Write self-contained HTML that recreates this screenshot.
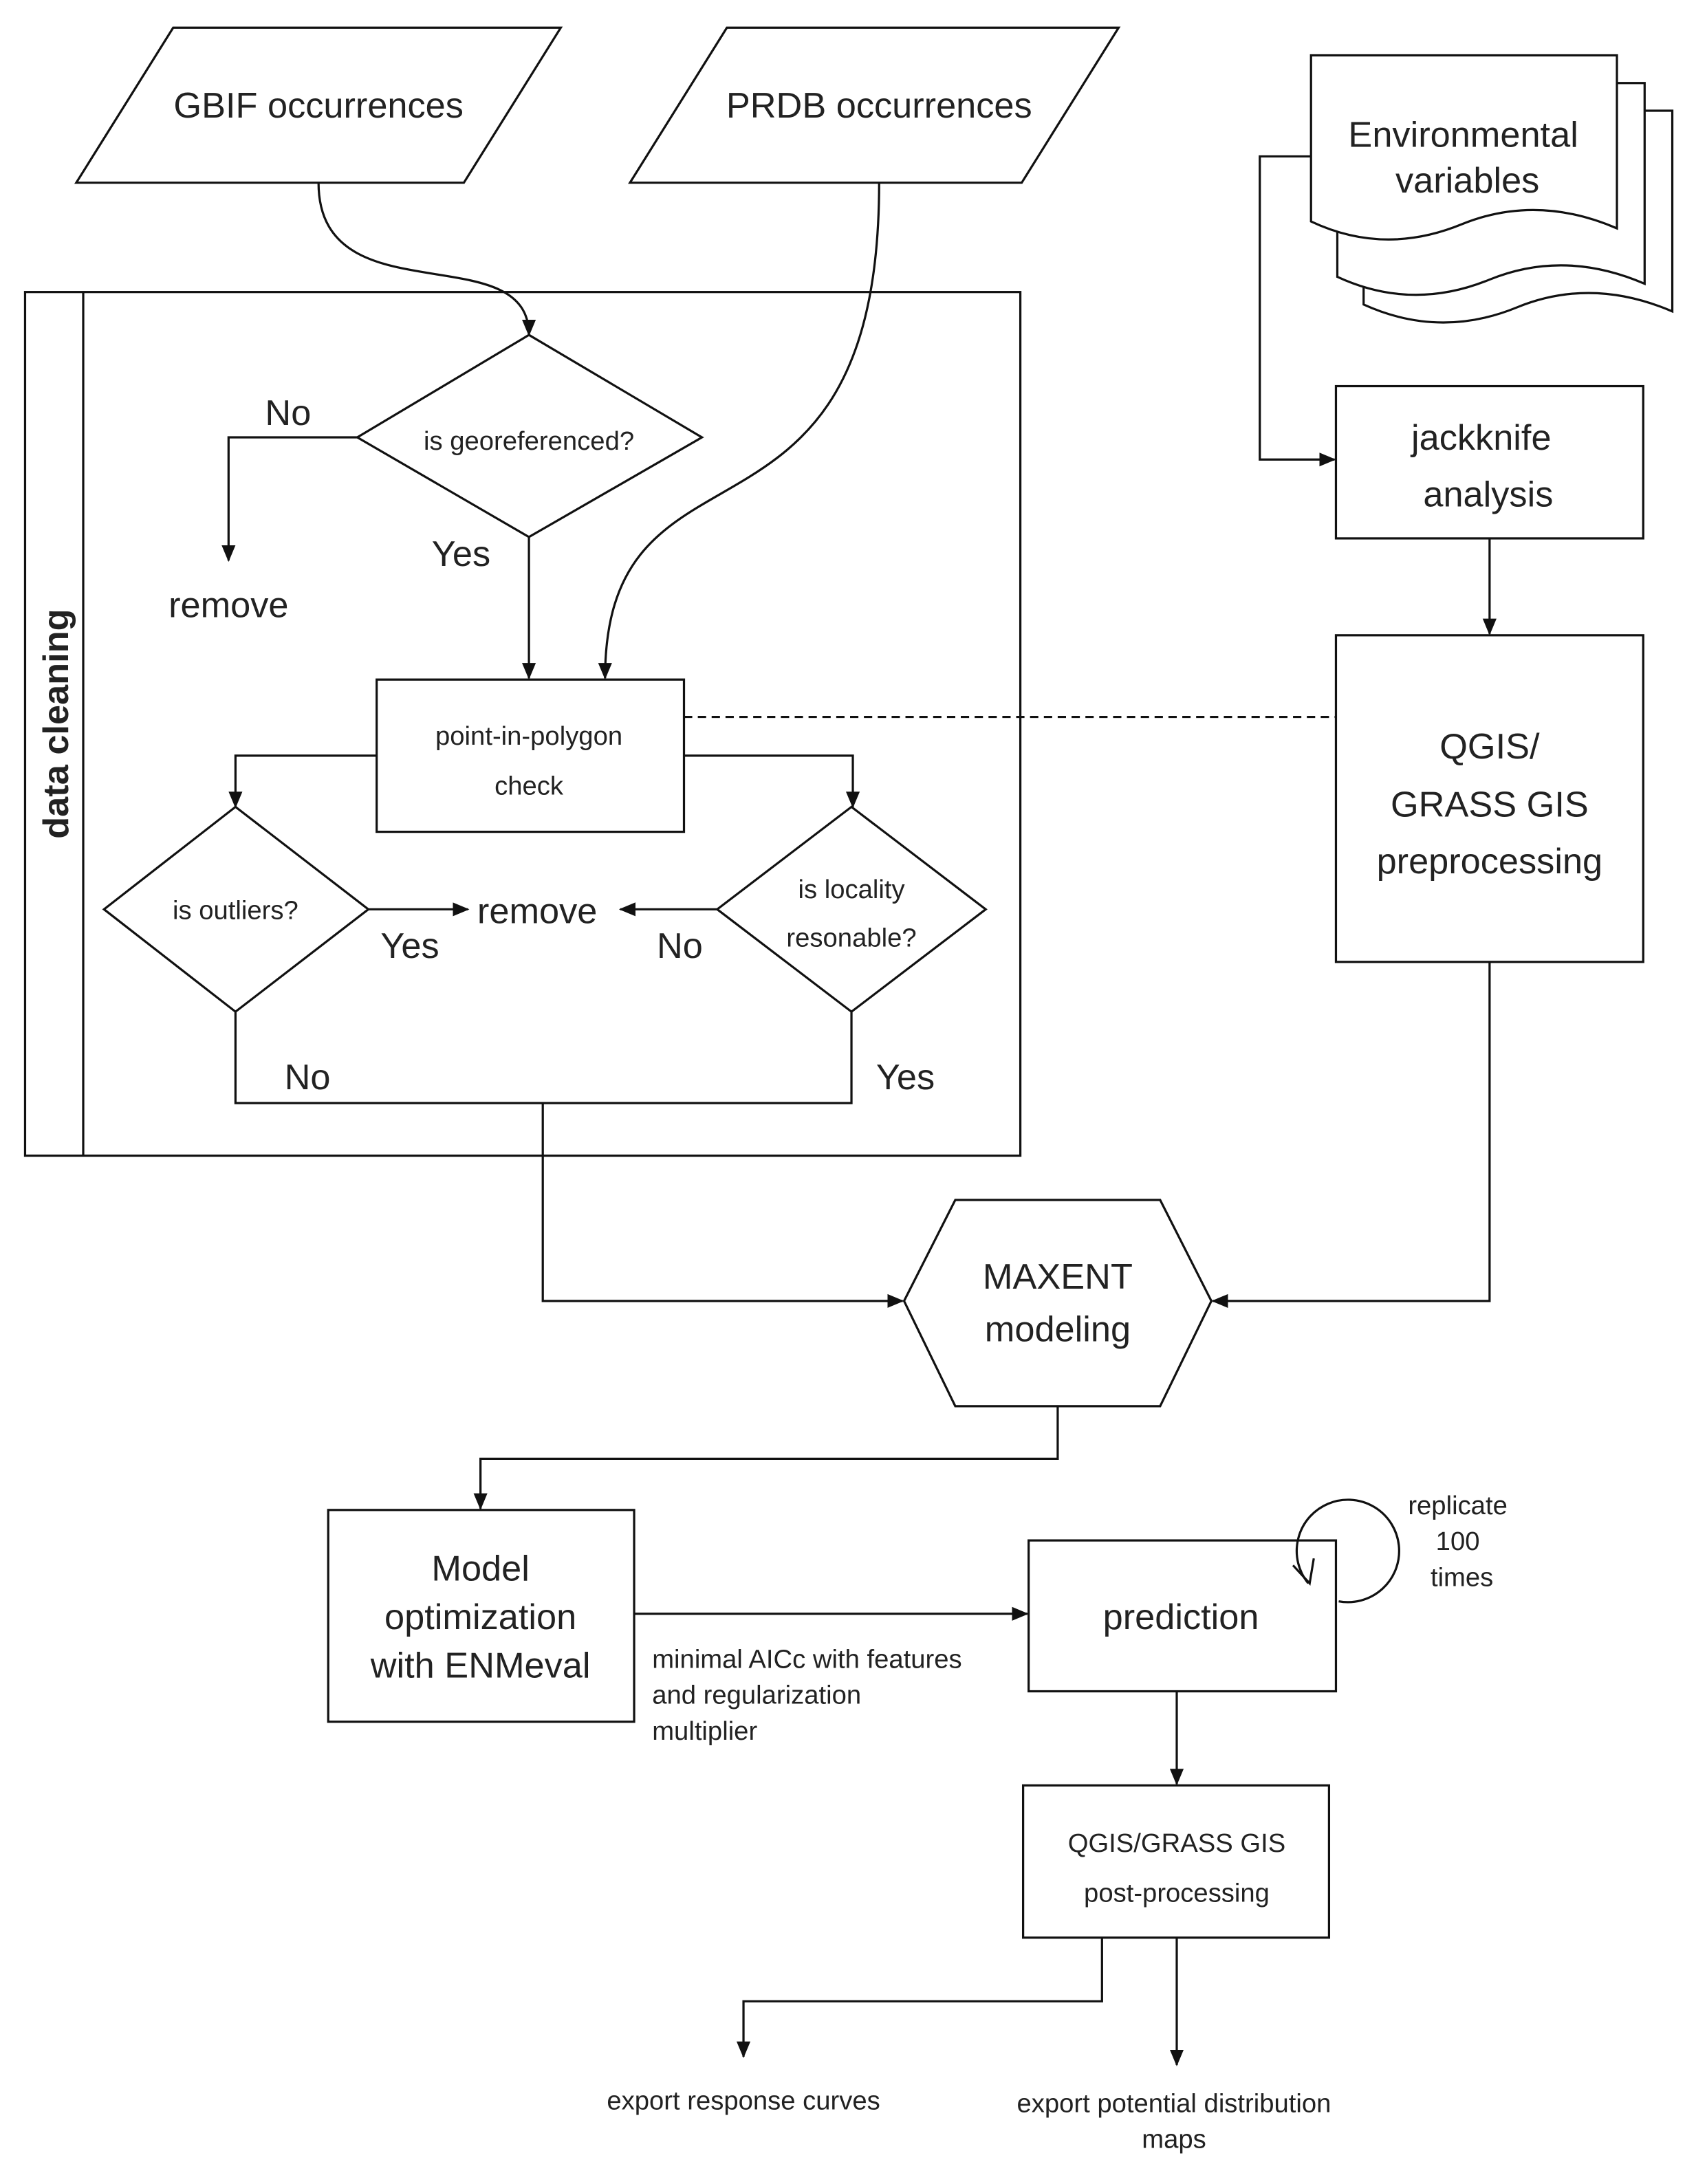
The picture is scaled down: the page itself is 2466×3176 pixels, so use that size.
<!DOCTYPE html>
<html><head><meta charset="utf-8"><style>html,body{margin:0;padding:0;background:#fff}svg{display:block}text{font-family:"Liberation Sans",sans-serif;fill:#222}</style></head>
<body>
<svg width="2466" height="3176" viewBox="0 0 1225 1578" xmlns="http://www.w3.org/2000/svg">
<defs><marker id="a" markerWidth="12" markerHeight="12" refX="11" refY="6" orient="auto" markerUnits="userSpaceOnUse"><path d="M0,1 L12,6 L0,11 Z" fill="#111"/></marker></defs>
<g fill="none" stroke="#111" stroke-width="1.6">
<polygon points="125,20 405,20 335,132 55,132" fill="#fff"/>
<polygon points="525,20 808,20 738,132 455,132" fill="#fff"/>
<path d="M985,80 H1208 V225 Q1150,200 1096,222 Q1040,245 985,220 Z" fill="#fff"/>
<path d="M966,60 H1188 V205 Q1130,180 1076,202 Q1020,225 966,200 Z" fill="#fff"/>
<path d="M947,40 H1168 V165 Q1110,140 1056,162 Q1000,185 947,160 Z" fill="#fff"/>
<rect x="18" y="211" width="719" height="624"/>
<line x1="60" y1="211" x2="60" y2="835"/>
<polygon points="382,242 507,316 382,388 258,316" fill="#fff"/>
<path d="M230,132 C230,230 382,170 382,242" marker-end="url(#a)"/>
<path d="M258,316 H165 V405" marker-end="url(#a)"/>
<path d="M382,388 V490" marker-end="url(#a)"/>
<path d="M635,132 C635,420 437,300 437,490" marker-end="url(#a)"/>
<rect x="272" y="491" width="222" height="110"/>
<line x1="494" y1="518" x2="965" y2="518" stroke-dasharray="6,4"/>
<path d="M272,546 H170 V583" marker-end="url(#a)"/>
<path d="M494,546 H616 V583" marker-end="url(#a)"/>
<polygon points="170,583 266,657 170,731 75,657"/>
<polygon points="615,583 712,657 615,731 518,657"/>
<path d="M266,657 H338" marker-end="url(#a)"/>
<path d="M518,657 H448" marker-end="url(#a)"/>
<path d="M170,731 V797 H615 V731"/>
<path d="M392,797 V940 H652" marker-end="url(#a)"/>
<polygon points="653,940 690,867 838,867 875,940 838,1016 690,1016"/>
<path d="M947,113 H910 V332 H964" marker-end="url(#a)"/>
<rect x="965" y="279" width="222" height="110"/>
<path d="M1076,389 V458" marker-end="url(#a)"/>
<rect x="965" y="459" width="222" height="236"/>
<path d="M1076,695 V940 H876" marker-end="url(#a)"/>
<path d="M764,1016 V1054 H347 V1090" marker-end="url(#a)"/>
<rect x="237" y="1091" width="221" height="153"/>
<path d="M458,1166 H742" marker-end="url(#a)"/>
<rect x="743" y="1113" width="222" height="109"/>
<path d="M967,1157 A37,37 0 1 0 945,1144"/>
<path d="M934,1131 L946,1144 L949,1126"/>
<path d="M850,1222 V1289" marker-end="url(#a)"/>
<rect x="739" y="1290" width="221" height="110"/>
<path d="M796,1400 V1446 H537 V1486" marker-end="url(#a)"/>
<path d="M850,1400 V1492" marker-end="url(#a)"/>
</g>
<g font-size="26" text-anchor="middle">
<text x="230" y="85">GBIF occurrences</text>
<text x="635" y="85">PRDB occurrences</text>
<text x="1057" y="106">Environmental</text>
<text x="1060" y="139">variables</text>
<text x="208" y="307">No</text>
<text x="165" y="446">remove</text>
<text x="333" y="409">Yes</text>
<text x="388" y="667">remove</text>
<text x="296" y="692">Yes</text>
<text x="491" y="692">No</text>
<text x="222" y="787">No</text>
<text x="654" y="787">Yes</text>
<text x="1070" y="325">jackknife</text>
<text x="1075" y="366">analysis</text>
<text x="1076" y="548">QGIS/</text>
<text x="1076" y="590">GRASS GIS</text>
<text x="1076" y="631">preprocessing</text>
<text x="764" y="931">MAXENT</text>
<text x="764" y="969">modeling</text>
<text x="347" y="1142">Model</text>
<text x="347" y="1177">optimization</text>
<text x="347" y="1212">with ENMeval</text>
<text x="853" y="1177">prediction</text>
<text x="40" y="523" font-weight="bold" transform="rotate(-90 40 523)" dy="9">data cleaning</text>
</g>
<g font-size="19" text-anchor="middle">
<text x="382" y="325">is georeferenced?</text>
<text x="382" y="538">point-in-polygon</text>
<text x="382" y="574">check</text>
<text x="170" y="664">is outliers?</text>
<text x="615" y="649">is locality</text>
<text x="615" y="684">resonable?</text>
<text x="1053" y="1094">replicate</text>
<text x="1053" y="1120">100</text>
<text x="1056" y="1146">times</text>
<text x="850" y="1338">QGIS/GRASS GIS</text>
<text x="850" y="1374">post-processing</text>
<text x="537" y="1524">export response curves</text>
<text x="848" y="1526">export potential distribution</text>
<text x="848" y="1552">maps</text>
<g text-anchor="start">
<text x="471" y="1205">minimal AICc with features</text>
<text x="471" y="1231">and regularization</text>
<text x="471" y="1257">multiplier</text>
</g>
</g>
</svg>
</body></html>
